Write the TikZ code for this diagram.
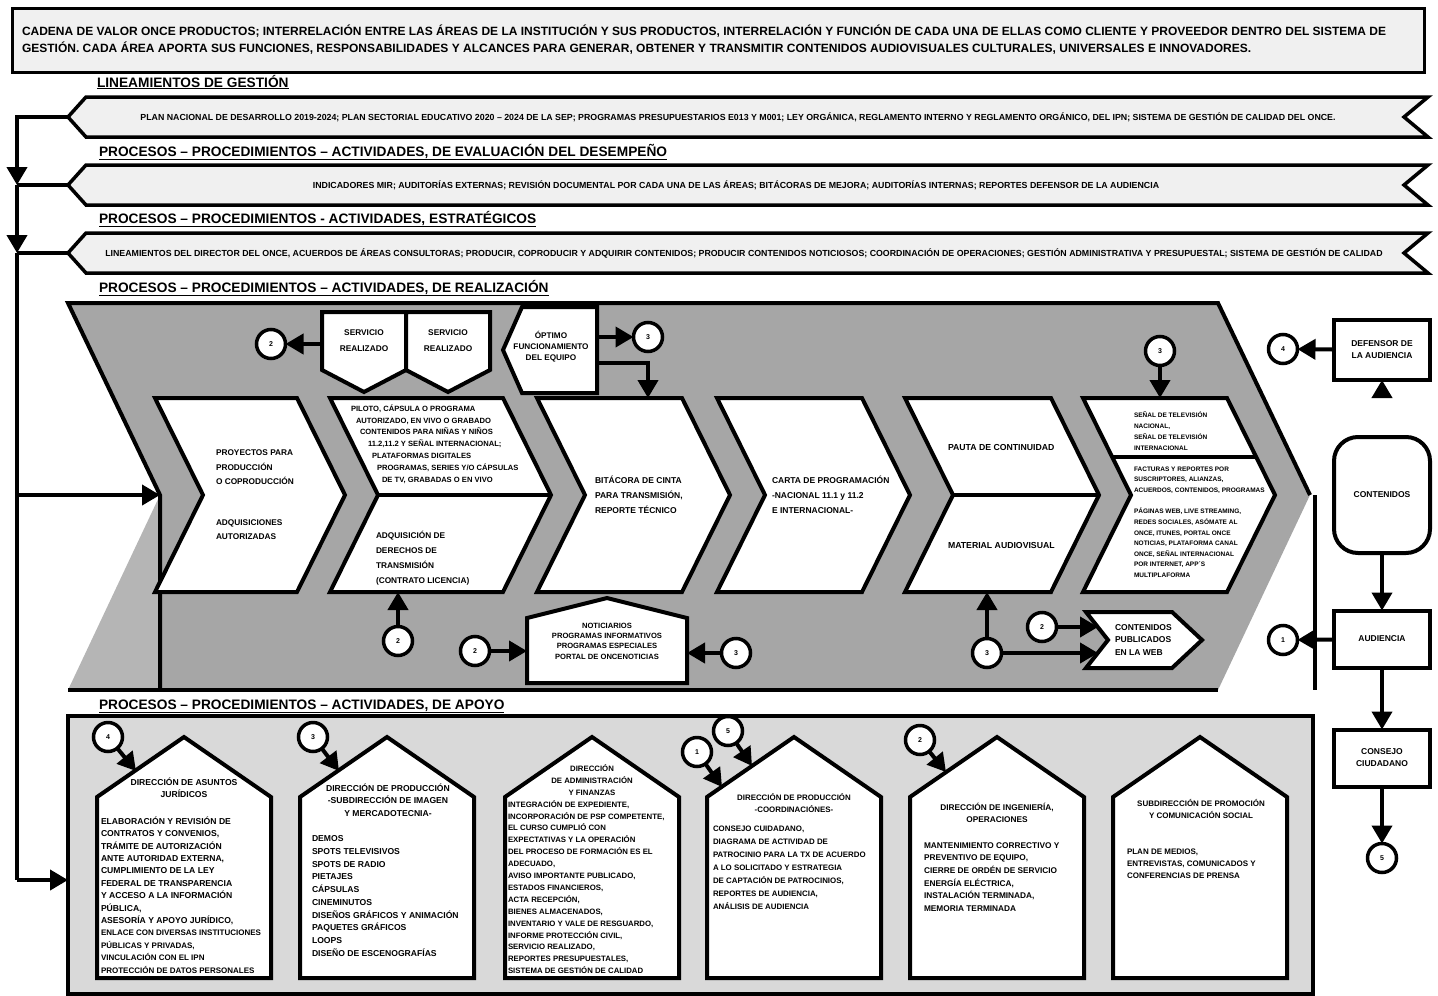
\documentclass[tikz,border=0pt]{standalone}
\usepackage{fontspec}
\setmainfont{Liberation Sans}
\usepackage{tikz}
\usetikzlibrary{arrows.meta,positioning}
\definecolor{bandgray}{RGB}{240,240,240}
\definecolor{realgray}{RGB}{166,166,166}
\definecolor{reallight}{RGB}{181,181,181}
\definecolor{apogray}{RGB}{217,217,217}
\newcommand{\bft}[2]{\fontsize{#1}{#2}\selectfont\bfseries}
\newcommand{\chico}{\fontsize{8}{12.4}\selectfont}
\tikzstyle{every node}=[inner sep=0pt, outer sep=0pt]
\tikzstyle{gross}=[line width=4pt, line join=miter]
\tikzstyle{flecha}=[line width=4pt, -{Triangle[length=18pt,width=20pt]}]
\tikzstyle{num}=[draw, circle, line width=3.5pt, fill=white, minimum size=29pt, font=\bft{7}{8}]
\tikzstyle{titulo}=[anchor=base west, font=\bft{13.7}{15}]
\tikzstyle{banda}=[font=\bft{8.8}{10}]
\tikzstyle{lado}=[draw, line width=4pt, fill=white, minimum width=96pt, align=center, font=\bft{8.5}{12}]
\tikzstyle{lista}=[anchor=west, align=left]

\begin{document}
\begin{tikzpicture}[x=1pt,y=-1pt]
\useasboundingbox (0,0) rectangle (1438,996);

\draw[line width=3pt, fill=bandgray] (12,8) rectangle (1424,72);
\node[lista, font=\bft{12}{17}] (cadena) at (22,40) {CADENA DE VALOR ONCE PRODUCTOS; INTERRELACIÓN ENTRE LAS ÁREAS DE LA INSTITUCIÓN Y SUS PRODUCTOS, INTERRELACIÓN Y FUNCIÓN DE CADA UNA DE ELLAS COMO CLIENTE Y PROVEEDOR DENTRO DEL SISTEMA DE\\GESTIÓN. CADA ÁREA APORTA SUS FUNCIONES, RESPONSABILIDADES Y ALCANCES PARA GENERAR, OBTENER Y TRANSMITIR CONTENIDOS AUDIOVISUALES CULTURALES, UNIVERSALES E INNOVADORES.};

\node[titulo] (hlin) at (97,87) {\underline{LINEAMIENTOS DE GESTIÓN}};
\node[titulo] (heva) at (99,156) {\underline{PROCESOS – PROCEDIMIENTOS – ACTIVIDADES, DE EVALUACIÓN DEL DESEMPEÑO}};
\node[titulo] (hest) at (99,223) {\underline{PROCESOS – PROCEDIMIENTOS - ACTIVIDADES, ESTRATÉGICOS}};
\node[titulo] (hrea) at (99,292) {\underline{PROCESOS – PROCEDIMIENTOS – ACTIVIDADES, DE REALIZACIÓN}};
\node[titulo] (hapo) at (99,709) {\underline{PROCESOS – PROCEDIMIENTOS – ACTIVIDADES, DE APOYO}};

\foreach \t/\n in {97/b1,165/b2,233/b3}{
  \draw[line width=3.5pt, line join=miter, fill=bandgray] (86,\t) -- (1428,\t) -- (1404,\t+20) -- (1428,\t+40) -- (86,\t+40) -- (68,\t+20) -- cycle;
  \coordinate (\n tip) at (68,\t+20);
}
\node[banda] (lin1) at (738,117) {PLAN NACIONAL DE DESARROLLO 2019-2024; PLAN SECTORIAL EDUCATIVO 2020 – 2024 DE LA SEP; PROGRAMAS PRESUPUESTARIOS E013 Y M001; LEY ORGÁNICA, REGLAMENTO INTERNO Y REGLAMENTO ORGÁNICO, DEL IPN; SISTEMA DE GESTIÓN DE CALIDAD DEL ONCE.};
\node[banda] (lin2) at (736,185) {INDICADORES MIR; AUDITORÍAS EXTERNAS; REVISIÓN DOCUMENTAL POR CADA UNA DE LAS ÁREAS; BITÁCORAS DE MEJORA; AUDITORÍAS INTERNAS; REPORTES DEFENSOR DE LA AUDIENCIA};
\node[banda] (lin3) at (744,253) {LINEAMIENTOS DEL DIRECTOR DEL ONCE, ACUERDOS DE ÁREAS CONSULTORAS; PRODUCIR, COPRODUCIR Y ADQUIRIR CONTENIDOS; PRODUCIR CONTENIDOS NOTICIOSOS; COORDINACIÓN DE OPERACIONES; GESTIÓN ADMINISTRATIVA Y PRESUPUESTAL; SISTEMA DE GESTIÓN DE CALIDAD};

\fill[realgray] (68,303) -- (1218,303) -- (1310,495) -- (1218,690) -- (160,690) -- (160,495) -- cycle;
\fill[reallight] (160,495) -- (160,690) -- (68,690) -- cycle;
\draw[gross] (160,690) -- (160,495) -- (68,303) -- (1218,303) -- (1310,495);
\draw[gross] (68,690) -- (1218,690);
\draw[gross] (1315,495) -- (1315,690);
\coordinate (realnotch) at (160,495);

\coordinate (j1) at (17,117);
\coordinate (j2) at (17,185);
\coordinate (j3) at (17,253);
\coordinate (j4) at (17,495);
\coordinate (j5) at (17,880);
\coordinate (apoyoW) at (68,880);
\draw[flecha] (b1tip) -- (j1) -- (j2);
\draw[gross] (j2) -- (b2tip);
\draw[flecha] (j2) -- (j3);
\draw[gross] (j3) -- (b3tip);
\draw[gross] (j3) -- (j5);
\draw[flecha] (j4) -- (realnotch);
\draw[flecha] (j5) -- (apoyoW);

\foreach \a/\b in {155/297,330/503,537/682,717/862,905/1051,1083/1227}
  \draw[gross, fill=white] (\a,398) -- (\b,398) -- (\b+48,495) -- (\b,592) -- (\a,592) -- (\a+48,495) -- cycle;
\draw[gross] (378,495) -- (551,495);
\draw[gross] (953,495) -- (1099,495);
\draw[gross] (1112,457) -- (1256,457);

\node[lista, font=\bft{8.3}{14.3}] (ch1t) at (216,495) {PROYECTOS PARA\\PRODUCCIÓN\\O COPRODUCCIÓN\\[27pt]ADQUISICIONES\\AUTORIZADAS};
\node[lista, font=\bft{7.6}{11.8}] (ch2a) at (351,444) {PILOTO, CÁPSULA O PROGRAMA\\\hspace*{5pt}AUTORIZADO, EN VIVO O GRABADO\\\hspace*{9pt}CONTENIDOS PARA NIÑAS Y NIÑOS\\\hspace*{17pt}11.2,11.2 Y SEÑAL INTERNACIONAL;\\\hspace*{21pt}PLATAFORMAS DIGITALES\\\hspace*{26pt}PROGRAMAS, SERIES Y/O CÁPSULAS\\\hspace*{31pt}DE TV, GRABADAS O EN VIVO};
\node[lista, font=\bft{8.3}{15}] (ch2b) at (376,558) {ADQUISICIÓN DE\\DERECHOS DE\\TRANSMISIÓN\\(CONTRATO LICENCIA)};
\node[lista, font=\bft{8.5}{15}] (ch3t) at (595,495) {BITÁCORA DE CINTA\\PARA TRANSMISIÓN,\\REPORTE TÉCNICO};
\node[lista, font=\bft{8.5}{15}] (ch4t) at (772,495) {CARTA DE PROGRAMACIÓN\\-NACIONAL 11.1 y 11.2\\E INTERNACIONAL-};
\node[lista, font=\bft{8.7}{12}] (ch5a) at (948,447) {PAUTA DE CONTINUIDAD};
\node[lista, font=\bft{8.7}{12}] (ch5b) at (948,545) {MATERIAL AUDIOVISUAL};
\node[lista, font=\bft{6.5}{11}] (ch6a) at (1134,431) {SEÑAL DE TELEVISIÓN\\NACIONAL,\\SEÑAL DE TELEVISIÓN\\INTERNACIONAL};
\node[lista, font=\bft{6.5}{10.6}] (ch6b) at (1134,522) {FACTURAS Y REPORTES POR\\SUSCRIPTORES, ALIANZAS,\\ACUERDOS, CONTENIDOS, PROGRAMAS\\[11pt]PÁGINAS WEB, LIVE STREAMING,\\REDES SOCIALES, ASÓMATE AL\\ONCE, ITUNES, PORTAL ONCE\\NOTICIAS, PLATAFORMA CANAL\\ONCE, SEÑAL INTERNACIONAL\\POR INTERNET, APP´S\\MULTIPLAFORMA};

\draw[gross, fill=white] (322,312) -- (406,312) -- (406,370) -- (364,392) -- (322,370) -- cycle;
\draw[gross, fill=white] (406,312) -- (490,312) -- (490,370) -- (448,392) -- (406,370) -- cycle;
\node[align=center, font=\bft{8.3}{16}] (srv1) at (364,341) {SERVICIO\\REALIZADO};
\node[align=center, font=\bft{8.3}{16}] (srv2) at (448,341) {SERVICIO\\REALIZADO};
\node[num] (c2s) at (271,344) {2};
\coordinate (srvW) at (322,344);
\draw[flecha] (srvW) -- (c2s);

\draw[gross, fill=white] (522,307) -- (597,307) -- (597,393) -- (522,393) -- (503,350) -- cycle;
\node[align=center, font=\bft{8.2}{11}] (optimo) at (551,347) {ÓPTIMO\\FUNCIONAMIENTO\\DEL EQUIPO};
\node[num] (c3o) at (648,337) {3};
\coordinate (optE) at (597,337);
\coordinate (optE2) at (597,363);
\coordinate (ch3N) at (648,398);
\draw[flecha] (optE) -- (c3o);
\draw[flecha] (optE2) -| (ch3N);

\node[num] (c3t) at (1160,351) {3};
\coordinate (ch6N) at (1160,398);
\draw[flecha] (c3t) -- (ch6N);

\node[num] (c2b) at (398,641) {2};
\coordinate (ch2S) at (398,592);
\draw[flecha] (c2b) -- (ch2S);

\draw[gross, fill=white] (527,618) -- (607,598) -- (687,618) -- (687,683) -- (527,683) -- cycle;
\node[align=center, font=\bft{7.6}{10.3}] (noticias) at (607,641) {NOTICIARIOS\\PROGRAMAS INFORMATIVOS\\PROGRAMAS ESPECIALES\\PORTAL DE ONCENOTICIAS};
\node[num] (c2n) at (475,651) {2};
\node[num] (c3n) at (736,653) {3};
\coordinate (notW) at (527,651);
\coordinate (notE) at (687,653);
\draw[flecha] (c2n) -- (notW);
\draw[flecha] (c3n) -- (notE);

\draw[gross, fill=white] (1086,612) -- (1172,612) -- (1202,640) -- (1172,668) -- (1086,668) -- (1108,640) -- cycle;
\node[lista, font=\bft{8.5}{12.5}] (web) at (1115,640) {CONTENIDOS\\PUBLICADOS\\EN LA WEB};
\node[num] (c3m) at (987,653) {3};
\node[num] (c2w) at (1042,627) {2};
\coordinate (ch5S) at (987,592);
\coordinate (webA) at (1098,627);
\coordinate (webB) at (1098,653);
\draw[flecha] (c3m) -- (ch5S);
\draw[flecha] (c2w) -- (webA);
\draw[flecha] (c3m) -- (webB);

\node[lado, minimum height=60pt] (defensor) at (1382,350) {DEFENSOR DE\\LA AUDIENCIA};
\node[lado, rounded corners=24pt, minimum height=116pt] (contenidos) at (1382,495) {CONTENIDOS};
\node[lado, minimum height=57pt] (audiencia) at (1382,639) {AUDIENCIA};
\node[lado, minimum height=57pt] (consejo) at (1382,758) {CONSEJO\\CIUDADANO};
\node[num] (c4r) at (1283,349) {4};
\node[num] (c1r) at (1283,640) {1};
\node[num] (c5r) at (1382,858) {5};
\draw[flecha] (defensor) -- (c4r);
\draw[flecha] (audiencia) -- (c1r);
\draw[flecha, white, shorten <=4pt, -{Triangle[length=18pt,width=20pt,color=black]}] (contenidos) -- (defensor);
\draw[flecha] (contenidos) -- (audiencia);
\draw[flecha] (audiencia) -- (consejo);
\draw[flecha] (consejo) -- (c5r);

\draw[line width=3.5pt, fill=apogray] (68,716) rectangle (1313,994);
\foreach \L in {97,300,505,707,910,1113}
  \draw[gross, fill=white] (\L,797) -- (\L+87,737) -- (\L+174,797) -- (\L+174,978) -- (\L,978) -- cycle;

\node[align=center, font=\bft{8.6}{12.4}] (jur) at (184,788) {DIRECCIÓN DE ASUNTOS\\JURÍDICOS};
\node[lista, font=\bft{8.6}{12.4}] (jurl) at (101,895) {ELABORACIÓN Y REVISIÓN DE\\CONTRATOS Y CONVENIOS,\\TRÁMITE DE AUTORIZACIÓN\\ANTE AUTORIDAD EXTERNA,\\CUMPLIMIENTO DE LA LEY\\FEDERAL DE TRANSPARENCIA\\Y ACCESO A LA INFORMACIÓN\\PÚBLICA,\\ASESORÍA Y APOYO JURÍDICO,\\\chico ENLACE CON DIVERSAS INSTITUCIONES\\\chico PÚBLICAS Y PRIVADAS,\\\chico VINCULACIÓN CON EL IPN\\\chico PROTECCIÓN DE DATOS PERSONALES};
\node[align=center, font=\bft{8.6}{12.6}] (img) at (388,800) {DIRECCIÓN DE PRODUCCIÓN\\-SUBDIRECCIÓN DE IMAGEN\\Y MERCADOTECNIA-};
\node[lista, font=\bft{8.6}{12.7}] (imgl) at (312,896) {DEMOS\\SPOTS TELEVISIVOS\\SPOTS DE RADIO\\PIETAJES\\CÁPSULAS\\CINEMINUTOS\\DISEÑOS GRÁFICOS Y ANIMACIÓN\\PAQUETES GRÁFICOS\\LOOPS\\DISEÑO DE ESCENOGRAFÍAS};
\node[align=center, font=\bft{7.8}{11.9}] (adm) at (592,780) {DIRECCIÓN\\DE ADMINISTRACIÓN\\Y FINANZAS};
\node[lista, font=\bft{7.8}{11.9}] (adml) at (508,887) {INTEGRACIÓN DE EXPEDIENTE,\\INCORPORACIÓN DE PSP COMPETENTE,\\EL CURSO CUMPLIÓ  CON\\EXPECTATIVAS Y LA OPERACIÓN\\DEL PROCESO DE FORMACIÓN ES EL\\ADECUADO,\\AVISO IMPORTANTE PUBLICADO,\\ESTADOS FINANCIEROS,\\ACTA RECEPCIÓN,\\BIENES  ALMACENADOS,\\INVENTARIO Y VALE DE RESGUARDO,\\INFORME PROTECCIÓN CIVIL,\\SERVICIO REALIZADO,\\REPORTES PRESUPUESTALES,\\SISTEMA DE GESTIÓN DE CALIDAD};
\node[align=center, font=\bft{7.9}{12.4}] (coo) at (794,803) {DIRECCIÓN DE PRODUCCIÓN\\-COORDINACIÓNES-};
\node[lista, font=\bft{7.9}{13}] (cool) at (713,868) {CONSEJO CUIDADANO,\\DIAGRAMA DE ACTIVIDAD DE\\PATROCINIO PARA LA TX DE ACUERDO\\A LO SOLICITADO Y ESTRATEGIA\\DE CAPTACIÓN DE PATROCINIOS,\\REPORTES DE AUDIENCIA,\\ANÁLISIS DE AUDIENCIA};
\node[align=center, font=\bft{8.3}{12.4}] (ing) at (997,813) {DIRECCIÓN DE INGENIERÍA,\\OPERACIONES};
\node[lista, font=\bft{8.3}{12.7}] (ingl) at (924,877) {MANTENIMIENTO CORRECTIVO Y\\PREVENTIVO DE EQUIPO,\\CIERRE DE ORDÉN DE SERVICIO\\ENERGÍA ELÉCTRICA,\\INSTALACIÓN TERMINADA,\\MEMORIA TERMINADA};
\node[align=center, font=\bft{8}{12.6}] (pro) at (1201,809) {SUBDIRECCIÓN DE PROMOCIÓN\\Y COMUNICACIÓN SOCIAL};
\node[lista, font=\bft{8}{12}] (prol) at (1127,864) {PLAN  DE  MEDIOS,\\ENTREVISTAS, COMUNICADOS Y\\CONFERENCIAS DE PRENSA};

\node[num] (c4h) at (108,737) {4};
\node[num] (c3h) at (313,737) {3};
\node[num] (c1h) at (697,752) {1};
\node[num] (c5h) at (728,731) {5};
\node[num] (c2h) at (920,740) {2};
\coordinate (roof1) at (136,771);
\coordinate (roof2) at (339,771);
\coordinate (roof4a) at (722,787);
\coordinate (roof4b) at (752,766);
\coordinate (roof5) at (946,772);
\draw[flecha] (c4h) -- (roof1);
\draw[flecha] (c3h) -- (roof2);
\draw[flecha] (c1h) -- (roof4a);
\draw[flecha] (c5h) -- (roof4b);
\draw[flecha] (c2h) -- (roof5);

\end{tikzpicture}
\end{document}
